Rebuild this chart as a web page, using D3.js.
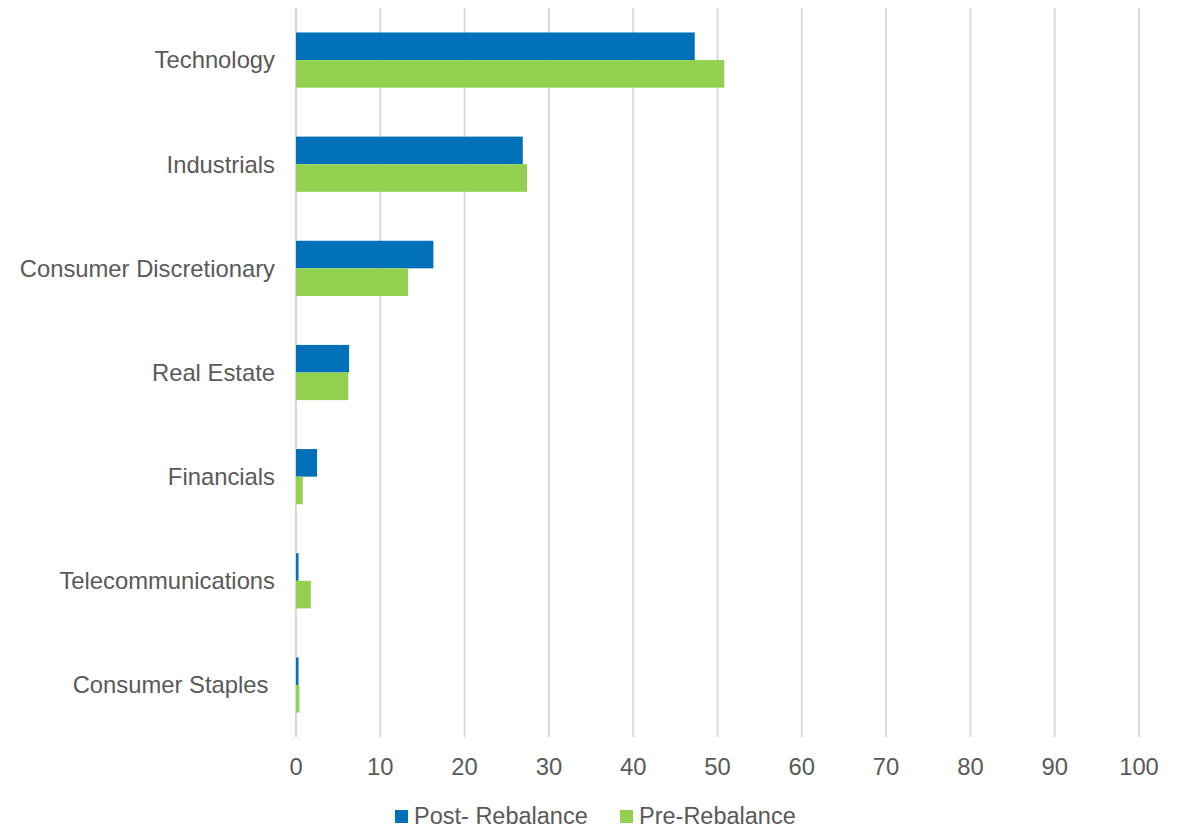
<!DOCTYPE html>
<html><head><meta charset="utf-8">
<script src="https://cdn.jsdelivr.net/npm/d3@7"></script>
<style>body{margin:0;background:#fff;} text{font-family:"Liberation Sans",Arial,sans-serif;fill:#595959;}</style>
</head><body>
<svg id="c" width="1187" height="828"></svg>
<script>
const categories = ["Technology","Industrials","Consumer Discretionary","Real Estate","Financials","Telecommunications","Consumer Staples "];
const seriesNames = ["Post- Rebalance","Pre-Rebalance"];
const postValues = [47.3, 26.9, 16.3, 6.3, 2.5, 0.3, 0.3];
const preValues = [50.8, 27.4, 13.3, 6.2, 0.8, 1.75, 0.4];
const xTicks = [0,10,20,30,40,50,60,70,80,90,100];
const colors = ["#0070B8","#92D050"];

const svg = d3.select("#c");
const mLeft = 296, mRight = 1139, mTop = 8, mBottom = 737;
const x = d3.scaleLinear().domain([0,100]).range([mLeft,mRight]);
const y = d3.scaleBand().domain(categories).range([mTop,mBottom]).padding(0);
const groupH = y.bandwidth()*0.53;
const ys = d3.scaleBand().domain(seriesNames).range([0,groupH]);

// gridlines
svg.append("g").selectAll("line").data(xTicks).join("line")
  .attr("x1",d=>x(d)).attr("x2",d=>x(d)).attr("y1",mTop).attr("y2",mBottom)
  .attr("stroke","#D9D9D9").attr("stroke-width",2);

const data = [postValues, preValues];
categories.forEach((c,i)=>{
  const y0 = y(c) + (y.bandwidth()-groupH)/2;
  seriesNames.forEach((s,j)=>{
    svg.append("rect").attr("x",x(0)).attr("y",y0+ys(s))
      .attr("width",x(data[j][i])-x(0)).attr("height",ys.bandwidth())
      .attr("fill",colors[j]);
  });
});

// category labels
svg.append("g").selectAll("text").data(categories).join("text")
  .attr("x",275).attr("y",d=>y(d)+y.bandwidth()/2).attr("dy","0.35em")
  .attr("text-anchor","end").style("white-space","pre").attr("font-size",23.8)
  .text(d=>d);

// x tick labels
svg.append("g").selectAll("text").data(xTicks).join("text")
  .attr("x",d=>x(d)).attr("y",767).attr("dy","0.35em")
  .attr("text-anchor","middle").attr("font-size",23.8).text(d=>d);

// legend
const legX = [395, 620];
seriesNames.forEach((s,j)=>{
  svg.append("rect").attr("x",legX[j]).attr("y",810).attr("width",13).attr("height",13).attr("fill",colors[j]);
  svg.append("text").attr("x",legX[j]+19).attr("y",816).attr("dy","0.35em").attr("font-size",23.5).text(s);
});
</script>
</body></html>
